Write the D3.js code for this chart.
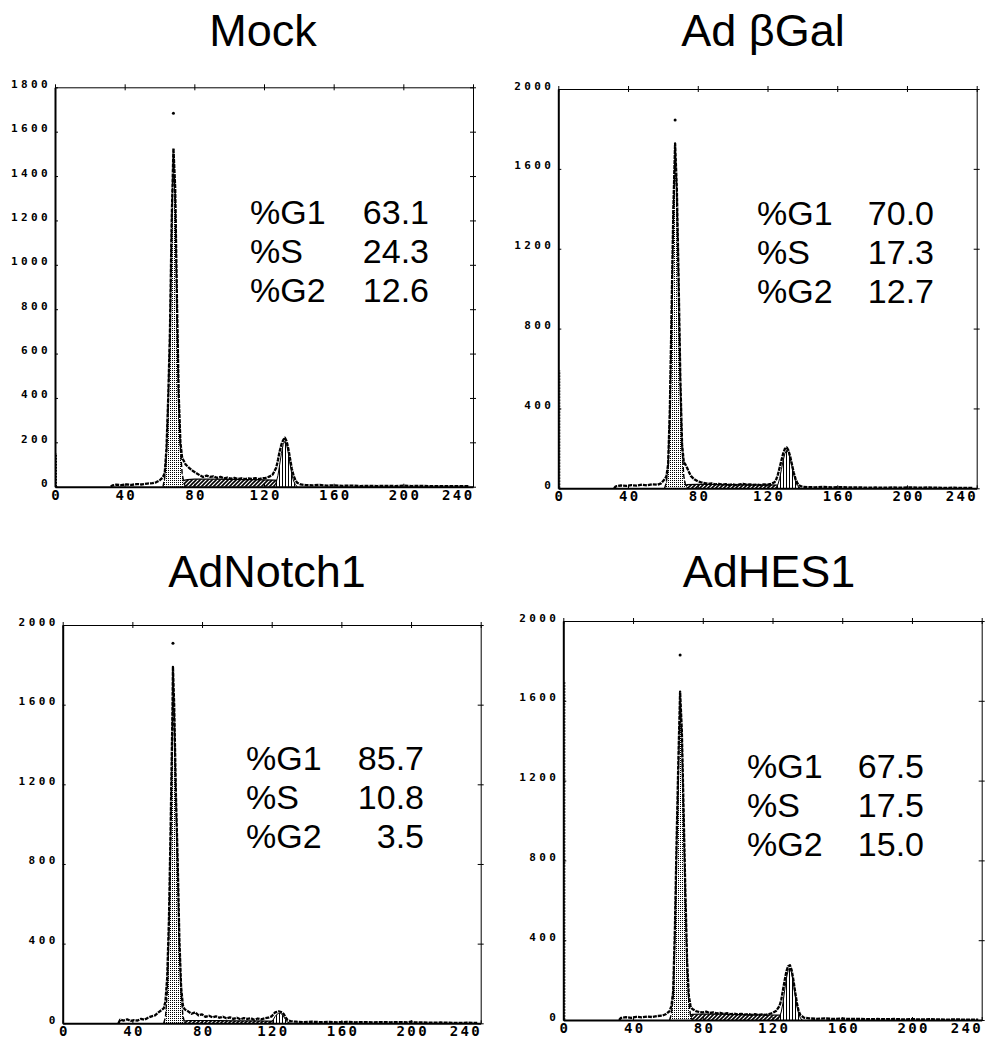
<!DOCTYPE html>
<html>
<head>
<meta charset="utf-8">
<script src="https://cdnjs.cloudflare.com/ajax/libs/d3/7.8.5/d3.min.js"></script>
<style>
body{margin:0;background:#fff;}
svg text{fill:#000;}
.tick text{font-family:"DejaVu Sans Mono",monospace;font-weight:bold;}
</style>
</head>
<body>
<div id="figure"></div>
<script>
// axis ticks
var xTicks = [0, 40, 80, 120, 160, 200, 240];
var yTicksMock = [0, 200, 400, 600, 800, 1000, 1200, 1400, 1600, 1800];
var yTicks = [0, 400, 800, 1200, 1600, 2000];

var titles = ["Mock", "Ad \u03B2Gal", "AdNotch1", "AdHES1"];
var phaseLabels = ["%G1", "%S", "%G2"];

// percentages per phase (G1, S, G2)
var mockStats = [63.1, 24.3, 12.6];
var galStats = [70.0, 17.3, 12.7];
var notchStats = [85.7, 10.8, 3.5];
var hesStats = [67.5, 17.5, 15.0];

// DNA content histograms: [channel, count]
var mockRaw = [[32,0],[33,6],[35,9],[38,7],[41,10],[44,8],[47,12],[50,10],[53,14],[56,16],[58,20],[60,28],[61,35],[62,45],[63,60],[64,170],[65,400],[66,700],[67,1200],[68,1525],[69,1350],[70,850],[71,420],[72,200],[73,130],[75,100],[77,85],[79,72],[81,62],[83,52],[85,44],[87,50],[89,44],[91,47],[93,40],[95,44],[97,38],[99,41],[101,36],[103,40],[105,35],[107,38],[109,34],[111,37],[113,35],[115,39],[117,34],[119,38],[121,40],[123,45],[125,55],[127,85],[128,120],[129,160],[130,190],[131,210],[132,221],[133,205],[134,170],[135,125],[136,80],[137,50],[138,30],[139,18],[141,10],[144,7],[148,6],[152,8],[156,5],[160,6],[165,4],[170,5],[175,3],[180,4],[185,3],[190,4],[195,3],[200,5],[205,3],[210,4],[215,2],[220,3],[225,2],[230,3],[235,2],[238,2]];
var mockG1 = [[62,0],[63,40],[64,150],[65,380],[66,680],[67,1180],[68,1490],[69,1320],[70,830],[71,400],[72,170],[73,60],[74,15],[75,0]];
var mockS = [[70,0],[72,25],[76,32],[80,34],[90,34],[100,33],[110,32],[120,31],[126,30],[130,28],[134,20],[137,8],[139,0]];
var mockG2 = [[126,0],[127,20],[128,50],[129,100],[130,150],[131,190],[132,205],[133,190],[134,150],[135,100],[136,55],[137,25],[138,10],[139,0]];
var mockDot = [68, 1683];
var mockEdge = 150;

var galRaw = [[32,0],[33,10],[36,14],[39,12],[42,16],[45,13],[48,18],[51,15],[54,20],[57,18],[59,25],[60,35],[61,45],[62,60],[63,120],[64,400],[65,900],[66,1400],[67,1728],[68,1500],[69,1050],[70,550],[71,220],[72,130],[73,118],[74,100],[75,80],[76,62],[78,45],[80,35],[82,30],[84,26],[86,22],[88,25],[90,20],[92,22],[94,18],[96,21],[98,17],[100,20],[102,16],[104,19],[106,22],[108,18],[110,20],[112,17],[114,19],[116,16],[118,20],[120,18],[122,22],[124,30],[125,45],[126,70],[127,105],[128,140],[129,175],[130,198],[131,205],[132,190],[133,160],[134,120],[135,80],[136,50],[137,28],[138,15],[140,8],[143,6],[147,5],[152,7],[157,4],[162,6],[167,4],[172,5],[177,3],[182,4],[187,3],[192,4],[197,3],[202,5],[207,3],[212,4],[217,3],[222,2],[227,3],[232,2],[238,2]];
var galG1 = [[61,0],[62,30],[63,110],[64,380],[65,870],[66,1380],[67,1700],[68,1480],[69,1030],[70,530],[71,200],[72,60],[73,15],[74,0]];
var galS = [[69,0],[71,12],[74,18],[80,20],[90,19],[100,18],[110,17],[120,17],[126,16],[130,14],[134,9],[137,3],[139,0]];
var galG2 = [[125,0],[126,20],[127,50],[128,95],[129,140],[130,175],[131,190],[132,180],[133,150],[134,110],[135,70],[136,38],[137,15],[138,5],[139,0]];
var galDot = [67, 1845];
var galEdge = 590;

var notchRaw = [[32,0],[33,18],[35,14],[37,20],[39,12],[41,16],[43,14],[45,22],[47,18],[49,28],[51,35],[53,40],[55,55],[57,68],[58,75],[59,110],[60,230],[61,520],[62,1000],[63,1550],[63.3,1790],[64,1600],[65,1150],[66,820],[67,420],[68,180],[69,90],[70,70],[72,60],[74,48],[76,55],[78,40],[80,45],[82,32],[84,38],[86,30],[88,35],[90,28],[92,33],[94,25],[96,30],[98,22],[100,28],[102,20],[104,26],[106,22],[108,25],[110,18],[112,24],[114,20],[116,25],[118,28],[120,35],[121,45],[122,55],[124,60],[125,58],[126,55],[127,45],[128,30],[129,18],[131,10],[134,8],[138,6],[143,8],[148,6],[153,7],[158,5],[163,7],[168,5],[173,6],[178,5],[183,6],[188,5],[193,6],[198,5],[200,8],[202,5],[207,4],[212,3],[217,4],[222,3],[227,2],[232,3],[238,2]];
var notchG1 = [[58,0],[59,30],[60,150],[61,450],[62,950],[63,1500],[63.3,1720],[64,1580],[65,1130],[66,780],[67,380],[68,150],[69,40],[70,0]];
var notchS = [[66,0],[68,10],[72,14],[80,14],[90,13],[100,12],[110,12],[118,11],[124,10],[128,6],[131,0]];
var notchG2 = [[119,0],[120,8],[121,20],[122,35],[123,45],[124,50],[125,50],[126,45],[127,32],[128,18],[129,6],[130,0]];
var notchDot = [63.3, 1908];
var notchEdge = 0;

var hesRaw = [[32,0],[33,10],[36,14],[39,11],[42,16],[45,13],[48,17],[51,15],[54,20],[57,22],[59,30],[61,45],[62,70],[63,140],[64,450],[65,900],[66,1300],[67,1646],[68,1450],[69,1050],[70,650],[71,300],[72,120],[73,70],[74,55],[76,45],[78,40],[80,38],[82,42],[84,35],[86,38],[88,33],[90,36],[92,30],[94,34],[96,29],[98,32],[100,28],[102,31],[104,27],[106,30],[108,26],[110,29],[112,25],[114,28],[116,26],[118,30],[120,35],[122,45],[124,70],[125,100],[126,150],[127,200],[128,245],[129,270],[130,275],[131,250],[132,200],[133,140],[134,85],[135,45],[136,25],[138,12],[141,8],[145,6],[150,8],[155,5],[160,7],[165,5],[170,6],[175,4],[180,5],[185,4],[190,5],[195,3],[200,4],[205,3],[210,4],[215,3],[220,2],[225,3],[230,2],[238,2]];
var hesG1 = [[61,0],[62,30],[63,110],[64,420],[65,870],[66,1230],[67,1600],[68,1420],[69,1020],[70,620],[71,270],[72,90],[73,20],[74,0]];
var hesS = [[68,0],[70,18],[74,28],[80,30],[90,29],[100,27],[110,26],[118,25],[124,24],[128,20],[132,12],[135,4],[137,0]];
var hesG2 = [[123,0],[124,15],[125,40],[126,85],[127,150],[128,210],[129,250],[130,260],[131,235],[132,185],[133,125],[134,70],[135,32],[136,10],[137,0]];
var hesDot = [67, 1830];
var hesEdge = 1700;

var W = 987, H = 1039;

var svg = d3.select("#figure").append("svg").attr("width", W).attr("height", H);
var defs = svg.append("defs");

var stip = defs.append("pattern").attr("id", "stipple").attr("patternUnits", "userSpaceOnUse")
  .attr("width", 2).attr("height", 2);
stip.append("rect").attr("width", 2).attr("height", 2).attr("fill", "#fff");
stip.append("rect").attr("width", 1).attr("height", 1).attr("fill", "#000");

var diag = defs.append("pattern").attr("id", "diag").attr("patternUnits", "userSpaceOnUse")
  .attr("width", 4).attr("height", 4);
diag.append("rect").attr("width", 4).attr("height", 4).attr("fill", "#fff");
diag.append("path").attr("d", "M-1,5 L5,-1 M-1,1 L1,-1 M3,5 L5,3").attr("stroke", "#000").attr("stroke-width", 1.6);

var vert = defs.append("pattern").attr("id", "vert").attr("patternUnits", "userSpaceOnUse")
  .attr("width", 3).attr("height", 3);
vert.append("rect").attr("width", 3).attr("height", 3).attr("fill", "#fff");
vert.append("line").attr("x1", 0.5).attr("x2", 0.5).attr("y1", 0).attr("y2", 3).attr("stroke", "#000").attr("stroke-width", 1);

var panels = [
  {title: titles[0], stats: mockStats, raw: mockRaw, g1: mockG1, s: mockS, g2: mockG2, dot: mockDot, edge: mockEdge, ticks: yTicksMock,
   box: [55, 87.3, 473, 486.7], tx: 263, ty: 46, sx: 250, vx: 429, sy: 224},
  {title: titles[1], stats: galStats, raw: galRaw, g1: galG1, s: galS, g2: galG2, dot: galDot, edge: galEdge, ticks: yTicks,
   box: [558.3, 89, 976.7, 488.3], tx: 763, ty: 46, sx: 757, vx: 934, sy: 225},
  {title: titles[2], stats: notchStats, raw: notchRaw, g1: notchG1, s: notchS, g2: notchG2, dot: notchDot, edge: notchEdge, ticks: yTicks,
   box: [62.7, 625, 480.7, 1023.3], tx: 267, ty: 587, sx: 246, vx: 424, sy: 770},
  {title: titles[3], stats: hesStats, raw: hesRaw, g1: hesG1, s: hesS, g2: hesG2, dot: hesDot, edge: hesEdge, ticks: yTicks,
   box: [563.3, 621, 981.7, 1020], tx: 769, ty: 587, sx: 747, vx: 924, sy: 778}
];

panels.forEach(function(p){
  var left = p.box[0], top = p.box[1], right = p.box[2], bottom = p.box[3];
  var x = d3.scaleLinear().domain([0, 240]).range([left, right]);
  var y = d3.scaleLinear().domain([0, p.ticks[p.ticks.length-1]]).range([bottom, top]);
  var g = svg.append("g");

  g.append("text").attr("x", p.tx).attr("y", p.ty).attr("text-anchor", "middle")
    .style("font-family", "'Liberation Sans', Arial, sans-serif").style("font-size", "45px").text(p.title);

  var area = d3.area().x(function(d){ return x(d[0]); }).y0(y(0)).y1(function(d){ return y(d[1]); });
  var line = d3.line().x(function(d){ return x(d[0]); }).y(function(d){ return y(d[1]); });

  g.append("path").datum(p.s).attr("d", area).attr("fill", "url(#diag)");
  g.append("path").datum(p.s).attr("d", line).attr("fill", "none").attr("stroke", "#000").attr("stroke-width", 1.2);
  g.append("path").datum(p.g2).attr("d", area).attr("fill", "url(#vert)");
  g.append("path").datum(p.g2).attr("d", line).attr("fill", "none").attr("stroke", "#000").attr("stroke-width", 1);
  g.append("path").datum(p.g1).attr("d", area).attr("fill", "url(#stipple)");
  g.append("path").datum(p.g1).attr("d", line).attr("fill", "none").attr("stroke", "#000")
    .attr("stroke-width", 1.4).attr("stroke-dasharray", "5,2");

  g.append("path").datum(p.raw).attr("d", line).attr("fill", "none").attr("stroke", "#000")
    .attr("stroke-width", 2.3).attr("stroke-linejoin", "round").attr("stroke-dasharray", "4,1");

  g.append("circle").attr("cx", x(p.dot[0])).attr("cy", y(p.dot[1])).attr("r", 1.5).attr("fill", "#000");

  if (p.edge > 0) {
    g.append("line").attr("x1", x(0) + 1.5).attr("x2", x(0) + 1.5).attr("y1", y(0)).attr("y2", y(p.edge))
      .attr("stroke", "#000").attr("stroke-width", 1).attr("stroke-dasharray", "2,1");
  }

  // frame
  var ax = g.append("g").attr("transform", "translate(" + left + ",0)")
    .call(d3.axisLeft(y).tickValues(p.ticks).tickFormat(d3.format("d")).tickSizeInner(-3).tickSizeOuter(0).tickPadding(4));
  ax.select(".domain").attr("stroke-width", 2);
  ax.selectAll(".tick text").attr("dy", "0").style("font-size", "11px").style("letter-spacing", "3.4px");

  var bx = g.append("g").attr("transform", "translate(0," + bottom + ")")
    .call(d3.axisBottom(x).tickValues(xTicks).tickFormat(d3.format("d")).tickSizeInner(-3).tickSizeOuter(0).tickPadding(3));
  bx.select(".domain").attr("stroke-width", 2);
  bx.selectAll(".tick text").attr("dx", "1.2px").style("font-size", "14px").style("letter-spacing", "2.4px");
  bx.selectAll(".tick text").filter(function(d){ return d === xTicks[xTicks.length-1]; })
    .attr("text-anchor", "end").attr("dx", "1px");

  var tx = g.append("g").attr("transform", "translate(0," + top + ")")
    .call(d3.axisTop(x).tickValues(xTicks).tickSize(3).tickSizeOuter(0).tickFormat(""));
  tx.selectAll(".tick line").attr("y1", 3);

  var rx = g.append("g").attr("transform", "translate(" + right + ",0)")
    .call(d3.axisRight(y).tickValues(p.ticks).tickSize(3).tickSizeOuter(0).tickFormat(""));
  rx.selectAll(".tick line").attr("x1", -3);

  // phase percentages
  var st = g.append("g").style("font-family", "'Liberation Sans', Arial, sans-serif").style("font-size", "34px");
  phaseLabels.forEach(function(lab, i){
    st.append("text").attr("x", p.sx).attr("y", p.sy + i * 39).text(lab);
    st.append("text").attr("x", p.vx).attr("y", p.sy + i * 39).attr("text-anchor", "end").text(p.stats[i].toFixed(1));
  });
});
</script>
</body>
</html>
